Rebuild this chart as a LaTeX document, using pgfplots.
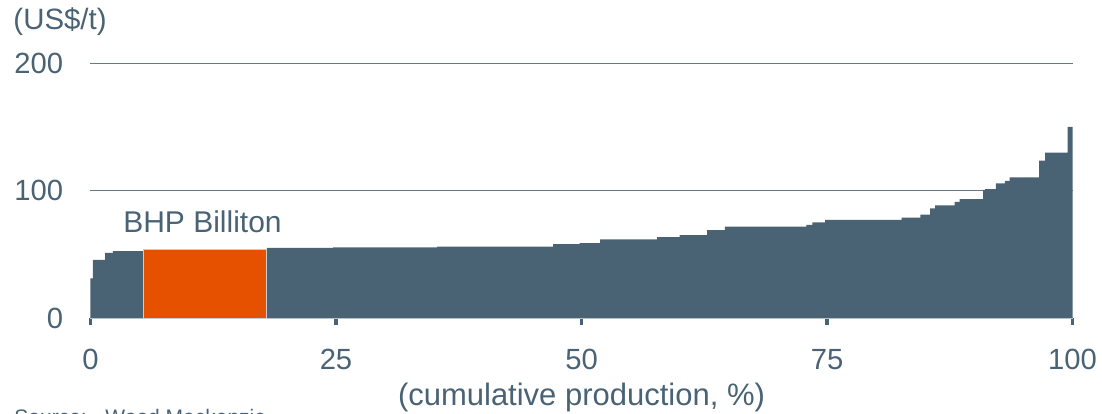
\documentclass[border=0pt]{standalone}
\usepackage{pgfplots}
\pgfplotsset{compat=1.18}
\usepackage{fontspec}
\setmainfont{Liberation Sans}
\definecolor{slate}{RGB}{73,99,117}
\definecolor{bhp}{RGB}{230,81,0}
\definecolor{axgrey}{RGB}{200,206,212}

\pgfplotstableread{
x y
0 31
0.25 45.5
1.48 51
2.29 52.5
5.35 54
17.97 55
24.7 55.4
35.3 56
47.1 58
49.8 58.7
51.9 61.7
57.7 63.5
60.0 65
62.8 69
64.6 71.6
72.9 73
73.5 75
74.8 77
82.6 78.7
84.5 81
85.5 86
86.0 88.4
88.0 91
88.5 93.3
90.9 100.4
91.1 101
92.2 105.6
93.1 107.5
93.6 110.3
96.6 123.4
97.2 129.7
99.5 150
100 150
}\costcurve

\pgfplotstableread{
x y
5.35 54
17.97 54
}\bhpbox

\begin{document}
\begin{tikzpicture}
\begin{axis}[
  at={(0,0)}, anchor=south west,
  scale only axis, width=491pt, height=127.5pt,
  xmin=0, xmax=100, ymin=0, ymax=200,
  axis x line*=bottom, axis y line*=left,
  x axis line style={draw=axgrey, line width=0.6pt, -},
  y axis line style={draw=none, -},
  xtick={0,25,50,75,100}, ytick={100,200},
  extra y ticks={0}, extra y tick style={grid=none},
  ymajorgrids, grid style={slate!85, line width=0.5pt},
  tick align=outside,
  major tick length=3.5pt,
  xtick style={draw=slate, line width=1.6pt},
  ytick style={draw=none},
  ticklabel style={font=\fontsize{14.6}{17}\selectfont, text=slate, inner sep=0pt},
  xticklabel style={anchor=north, yshift=-12pt},
  yticklabel style={anchor=east, xshift=-10pt},
  /pgf/number format/assume math mode=true,
  xlabel={(cumulative production, \%)},
  xlabel style={at={(axis description cs:0.5,0)}, anchor=base, yshift=-43.5pt,
    font=\fontsize{15.5}{18}\selectfont, text=slate, inner sep=0pt},
  clip=false,
]
\addplot[const plot, fill=slate, draw=none] table[x=x,y=y] {\costcurve} \closedcycle;
\addplot[fill=bhp, draw=axgrey, line width=0.5pt] table[x=x,y=y] {\bhpbox} \closedcycle;
\node[anchor=base west, inner sep=0pt, font=\fontsize{15}{18}\selectfont, text=slate]
  at (axis cs:3.3,66.7) {BHP Billiton};
\node[anchor=base west, inner sep=0pt, font=\fontsize{14.7}{18}\selectfont, text=slate,
  xshift=-38.7pt, yshift=144.5pt] at (rel axis cs:0,0) {(US\$/t)};
\node[anchor=base west, inner sep=0pt, font=\fontsize{10.5}{12}\selectfont, text=slate,
  xshift=-38.25pt, yshift=-53pt] at (rel axis cs:0,0) {Source:};
\node[anchor=base west, inner sep=0pt, font=\fontsize{10.5}{12}\selectfont, text=slate,
  xshift=7.25pt, yshift=-53pt] at (rel axis cs:0,0) {Wood Mackenzie};
\end{axis}
\pgfresetboundingbox
\useasboundingbox (-45.25pt,-47.5pt) rectangle (505.75pt,159pt);
\end{tikzpicture}
\end{document}
